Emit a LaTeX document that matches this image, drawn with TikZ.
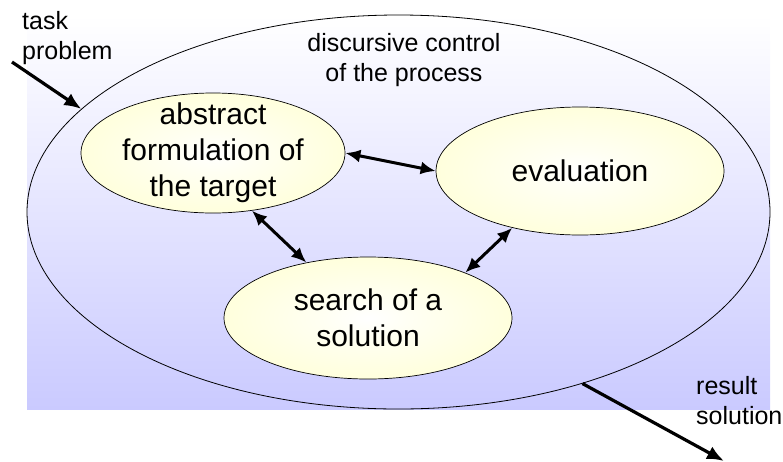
\documentclass[tikz,border=0pt]{standalone}
\usepackage{fontspec}
\setmainfont{Liberation Sans}
\usetikzlibrary{arrows.meta,shapes.geometric}
\definecolor{lavender}{RGB}{202,202,255}
\pgfdeclareradialshading{eggglow}{\pgfpoint{0bp}{0bp}}{rgb(0bp)=(1,1,1); rgb(8bp)=(1,1,0.95); rgb(50bp)=(1,1,0.74)}

\begin{document}
\begin{tikzpicture}[x=1pt, y=-1pt,
    stage/.style={draw, ellipse, line width=0.7pt, shading=eggglow, inner sep=0pt},
    inside/.style={align=center, inner sep=0pt, font=\fontsize{30}{36}\selectfont},
    tag/.style={inner sep=0pt, font=\fontsize{25}{30}\selectfont},
    link/.style={{Latex[length=15pt,width=13pt]}-{Latex[length=15pt,width=13pt]}, line width=3pt},
    flow/.style={-{Latex[length=17pt,width=14pt]}, line width=3.2pt}]
  \useasboundingbox (0,0) rectangle (783,461);
  \fill[top color=white, bottom color=lavender] (27,15) rectangle (770,409);
  \node[draw, ellipse, line width=0.8pt, minimum width=743pt, minimum height=394pt, inner sep=0pt] (proc) at (398.5,212) {};
  \node[tag, align=center, anchor=north] (ctl) at (404,33) {discursive control\\of the process};
  \node[stage, minimum width=264pt, minimum height=120pt,
        label={[inside]center:abstract\\formulation of\\the target}] (abs) at (213,153) {};
  \node[stage, minimum width=288pt, minimum height=128pt,
        label={[inside]center:evaluation}] (eval) at (580,171) {};
  \node[stage, minimum width=288pt, minimum height=122pt,
        label={[inside]center:search of a\\solution}] (search) at (368,318) {};
  \node[tag, align=left, anchor=north west] (task) at (22,11) {task\\problem};
  \node[tag, align=left, anchor=north west] (result) at (696,376) {result\\solution};
  \coordinate (taskin) at (12,62);
  \coordinate (resout) at (724,461);
  \draw[link] (abs.east) -- (eval.west);
  \draw[link] (abs.304) -- (search.138);
  \draw[link] (eval.220) -- (search.25);
  \draw[flow] (taskin) -- (proc.162);
  \draw[flow] (proc.317) -- (resout);
\end{tikzpicture}
\end{document}
